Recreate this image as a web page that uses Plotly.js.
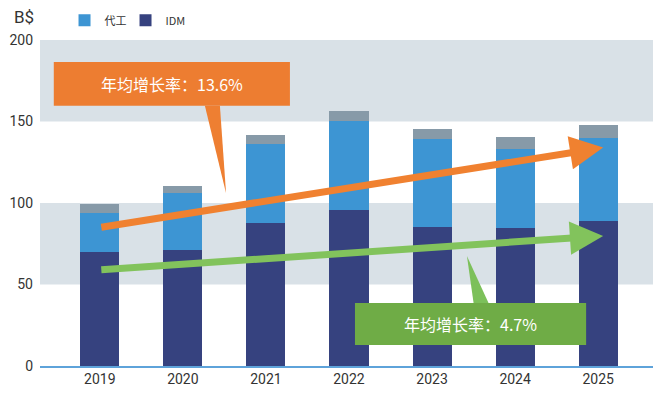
<!DOCTYPE html>
<html><head><meta charset="utf-8">
<script src="https://cdn.plot.ly/plotly-3.0.1.min.js"></script>
<style>html,body{margin:0;padding:0;background:#fff}#chart{width:653px;height:400px}</style>
</head><body><div id="chart"></div>
<script>
const years = ['2019','2020','2021','2022','2023','2024','2025'];
const idm = [70, 71, 88, 96, 85.5, 84.7, 89];
const foundry = [24, 35, 48, 54.5, 53.5, 48.4, 51];
const other = [5.5, 4.5, 6, 6, 6.5, 7.2, 7.7];
const seriesNames = ['IDM', '代工', '其他'];
const cagrLabels = ['年均增长率：13.6%', '年均增长率：4.7%'];
const yTicks = [0, 50, 100, 150, 200];
const unitLabel = 'B$';

const tickFont = {family: 'Liberation Sans Narrow, Roboto, sans-serif', size: 14, color: '#333'};
const cjk = 'Noto Sans CJK SC, sans-serif';

const traces = [
  {type:'bar', name: seriesNames[0], x: years, y: idm, marker:{color:'#36427f'}, width:0.47},
  {type:'bar', name: seriesNames[1], x: years, y: foundry, marker:{color:'#3d95d3'}, width:0.47},
  {type:'bar', name: seriesNames[2], x: years, y: other, marker:{color:'#879aa8'}, width:0.47, showlegend:false}
];

const layout = {
  width: 653, height: 400,
  margin: {l:40, r:0, t:40, b:34},
  barmode: 'stack',
  bargap: 0.53,
  plot_bgcolor: 'rgba(0,0,0,0)', paper_bgcolor: '#fff',
  showlegend: true,
  legend: {orientation:'h', x:0.04, xanchor:'left', y:1.105, yanchor:'top', traceorder:'reversed',
           entrywidth:16, entrywidthmode:'pixels',
           font:{family: cjk, size:11, color:'#333'}, itemwidth:30, bgcolor:'rgba(0,0,0,0)'},
  xaxis: {type:'category', range:[-0.72, 6.66], showgrid:false, zeroline:false, showline:true,
          linecolor:'#5ea3da', linewidth:1.5, tickfont: tickFont, ticks:'', fixedrange:true},
  yaxis: {range:[0,200], tickvals: yTicks, showgrid:false, zeroline:false, showline:false,
          tickfont: tickFont, ticks:'', ticklabelstandoff: 6},
  shapes: [
    {type:'rect', xref:'paper', yref:'y', x0:0, x1:1, y0:50, y1:100, fillcolor:'#d9e1e7', line:{width:0}, layer:'below'},
    {type:'rect', xref:'paper', yref:'y', x0:0, x1:1, y0:150, y1:200, fillcolor:'#d9e1e7', line:{width:0}, layer:'below'},
    // orange callout
    {type:'path', xref:'x', yref:'y', path:'M 1.265 159.7 L 1.446 159.7 L 1.52 106 Z', fillcolor:'#ee7f32', line:{width:0}},
    {type:'rect', xref:'x', yref:'y', x0:-0.554, x1:2.289, y0:159.7, y1:186.5, fillcolor:'#ed7d31', line:{width:0}},
    // green callout
    {type:'path', xref:'x', yref:'y', path:'M 4.50 38.7 L 4.68 38.7 L 4.42 67.5 Z', fillcolor:'#7cc05a', line:{width:0}},
    {type:'rect', xref:'x', yref:'y', x0:3.072, x1:5.855, y0:12.9, y1:38.7, fillcolor:'#6fac46', line:{width:0}}
  ],
  annotations: [
    {xref:'x', yref:'y', axref:'x', ayref:'y', x:6.06, y:134, ax:0, ay:85, showarrow:true,
     arrowhead:2, arrowsize:0.95, arrowwidth:7, arrowcolor:'#f08130', text:''},
    {xref:'x', yref:'y', axref:'x', ayref:'y', x:6.06, y:79.8, ax:0, ay:59, showarrow:true,
     arrowhead:2, arrowsize:0.95, arrowwidth:7, arrowcolor:'#82c35c', text:''},
    {xref:'x', yref:'y', x:0.87, y:173.1, text: cagrLabels[0], showarrow:false,
     font:{family: cjk, size:16, color:'#fff'}},
    {xref:'x', yref:'y', x:4.46, y:25.8, text: cagrLabels[1], showarrow:false,
     font:{family: cjk, size:16, color:'#fff'}},
    {xref:'paper', yref:'paper', x:-0.046, y:1.072, xanchor:'left', yanchor:'middle', text: unitLabel, showarrow:false,
     font:{family:'Liberation Sans Narrow, Roboto, sans-serif', size:17, color:'#333'}}
  ]
};

Plotly.newPlot('chart', traces, layout, {displayModeBar:false, staticPlot:true});
</script></body></html>
